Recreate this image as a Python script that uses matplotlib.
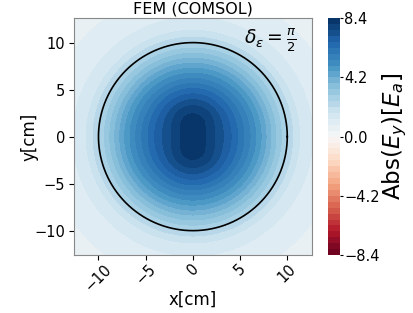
import numpy as np
import matplotlib as mpl
mpl.use("Agg")
import matplotlib.pyplot as plt

# radial profiles of |E_y| (along x axis and along y axis)
r_s = [0, 1, 2, 3, 4, 5, 6, 7, 8, 9, 10, 11, 12, 14, 18]
v_x = [8.4, 8.1, 7.7, 7.25, 6.75, 6.15, 5.5, 4.8, 4.0, 3.2, 2.5, 1.8, 1.4, 1.0, 0.6]
v_y = [8.4, 8.3, 8.15, 7.75, 7.1, 6.4, 5.6, 4.85, 4.05, 3.25, 2.5, 1.8, 1.4, 1.0, 0.6]
vlim = 8.4
cticks = [-8.4, -4.2, 0.0, 4.2, 8.4]
xticks = [-10, -5, 0, 5, 10]
yticks = [-10, -5, 0, 5, 10]
R = 10.0
lim = 12.6

x = np.linspace(-lim, lim, 301)
X, Y = np.meshgrid(x, x)
rr = np.hypot(X, Y)
c2 = np.where(rr > 0, (X / np.where(rr > 0, rr, 1)) ** 2, 0.5)
Z = np.interp(rr, r_s, v_x) * c2 + np.interp(rr, r_s, v_y) * (1 - c2)

fig = plt.figure(figsize=(4.13, 3.13), dpi=100)
ax = fig.add_axes([0.179, 0.185, 0.576, 0.757])
cax = fig.add_axes([0.794, 0.185, 0.029, 0.757])

levels = np.linspace(-vlim, vlim, 41)
cf = ax.contourf(X, Y, Z, levels=levels, cmap="RdBu", vmin=-vlim, vmax=vlim)
t = np.linspace(0, 2 * np.pi, 400)
ax.plot(R * np.cos(t), R * np.sin(t), color="black", lw=1.2)
ax.set_xlim(-lim, lim); ax.set_ylim(-lim, lim)
ax.set_xticks(xticks); ax.set_yticks(yticks)
ax.tick_params(axis="x", labelrotation=45, labelsize=10.5, pad=1)
ax.tick_params(axis="y", labelsize=10.5, pad=3)
ax.set_xlabel("x[cm]", fontsize=12)
ax.set_ylabel("y[cm]", fontsize=12)
ax.xaxis.set_label_coords(0.5, -0.15)
ax.yaxis.set_label_coords(-0.15, 0.5)
ax.set_title("FEM (COMSOL)", fontsize=11.5, pad=3)
ax.text(0.935, 0.905, r"$\delta_\varepsilon = \frac{\pi}{2}$", transform=ax.transAxes,
        ha="right", va="center", fontsize=13.5)
for s in ax.spines.values():
    s.set_color("#888888")

cb = fig.colorbar(cf, cax=cax, ticks=cticks)
cb.outline.set_visible(False)
cb.ax.tick_params(labelsize=10.5, length=2, pad=1)
cb.set_label(r"Abs($E_y$)[$E_a$]", fontsize=16.5, labelpad=1)

fig.savefig("out.png", dpi=100)
